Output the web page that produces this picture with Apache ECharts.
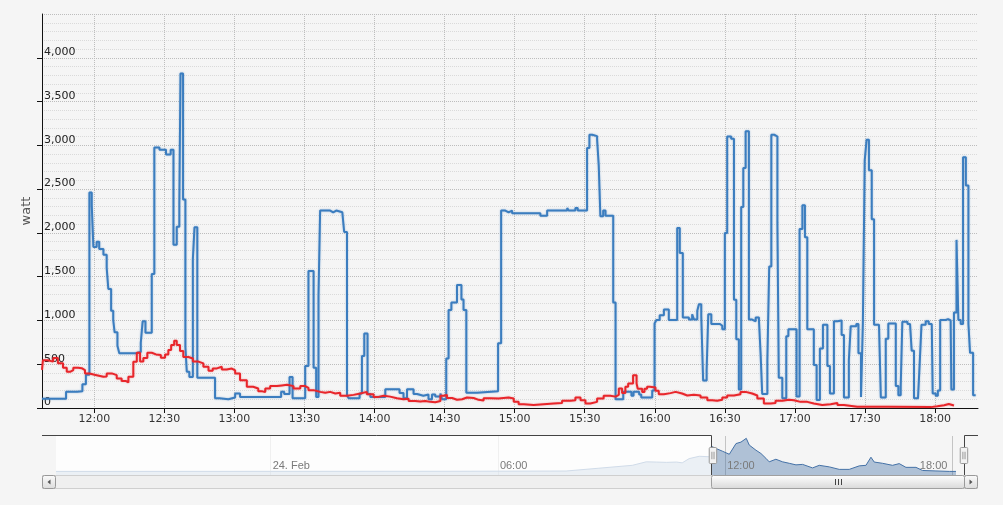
<!DOCTYPE html>
<html>
<head>
<meta charset="utf-8">
<script src="https://cdn.jsdelivr.net/npm/echarts@6/dist/echarts.min.js"></script>
<style>
html,body{margin:0;padding:0;background:#f5f5f5;}
#chart{width:1003px;height:505px;}
</style>
</head>
<body>
<div id="chart"></div>
<script>
// All times are minutes since 24 Feb 00:00 (UTC)
const navStart = -340;        // first point in the navigator (23 Feb 18:20)
const windowStart = 697.6;    // visible range start (11:37)
const windowEnd = 1098.4;     // visible range end = last data (18:18)
const yMax = 4500, yStep = 500;
const yAxisTitle = 'watt';
const dayLabel = '24. Feb';

// [minute, watt] - blue series (step)
const bluePower = [
[697.6,105],[707.9,185],[712.6,190],[714.9,270],[716.4,380],[717.9,2460],[718.9,2320],[719.6,1840],[721.0,1900],[722.1,1815],
[723.9,1750],[725.3,1600],[726.0,1360],[727.2,1110],[728.1,1005],[728.7,865],[729.9,710],[730.7,625],[737.9,640],[739.9,745],
[740.7,990],[741.9,860],[744.6,1530],[745.7,2975],[747.9,2950],[750.7,2895],[752.7,2950],[753.9,1865],[755.3,2070],[756.4,2320],
[756.9,3820],[758.0,2380],[759.0,700],[759.6,415],[760.7,355],[762.2,1700],[762.9,2065],[764.1,345],[771.7,110],[773.6,100],
[777.4,120],[780.3,165],[782.4,125],[800.0,185],[801.3,160],[803.6,355],[804.9,110],[810.3,480],[811.7,1565],[813.9,460],
[815.0,125],[816.0,1285],[816.7,2255],[821.0,2235],[822.3,2255],[823.6,2235],[826.2,2255],[827.0,2010],[828.2,140],[829.0,110],
[833.6,165],[834.6,595],[835.6,850],[837.0,160],[838.2,125],[844.6,215],[850.7,170],[852.4,110],[853.9,215],[856.7,160],
[858.2,140],[860.9,155],[863.1,100],[864.6,155],[866.0,130],[868.2,165],[868.9,100],[870.7,565],[871.7,1120],[872.9,1205],
[875.3,1405],[877.2,1240],[878.1,1120],[879.3,175],[883.9,190],[892.9,740],[894.2,2255],[896.0,2235],[897.4,2255],[898.9,2225],
[911.0,2195],[913.9,2255],[922.5,2285],[923.1,2255],[926.0,2285],[927.0,2255],[931.0,2970],[932.0,3120],[933.2,3105],[935.3,3065],
[936.0,2770],[936.7,2190],[937.9,2255],[938.9,2195],[942.2,1205],[943.2,100],[946.5,185],[950.0,140],[950.9,185],[953.3,155],
[954.2,120],[958.9,200],[959.9,965],[960.7,1005],[962.1,1060],[963.9,1125],[966.0,1005],[969.6,2055],[970.7,1770],[972.0,1035],
[974.6,1010],[976.0,1070],[976.8,1010],[978.2,1110],[978.9,1185],[979.9,1050],[980.7,315],[982.2,435],[982.9,1070],[984.2,960],
[987.9,940],[988.9,900],[990.0,2000],[991.0,3100],[992.7,3075],[993.9,1235],[994.9,785],[996.0,210],[997.0,2295],[997.9,2740],
[998.9,3160],[1000.3,1010],[1001.7,990],[1003.2,1035],[1004.6,1005],[1005.3,625],[1006.0,160],[1008.2,540],[1009.0,1615],[1009.9,3120],
[1011.3,3100],[1012.5,2120],[1013.1,345],[1014.6,110],[1016.3,820],[1017.2,900],[1020.7,130],[1022.0,2045],[1023.2,2315],[1024.3,1950],
[1025.3,900],[1028.1,490],[1029.3,90],[1030.7,680],[1032.0,950],[1033.9,480],[1035.0,165],[1036.7,990],[1038.2,1000],[1040.0,835],
[1041.0,120],[1043.1,545],[1043.9,935],[1046.3,960],[1047.2,625],[1048.3,125],[1049.1,965],[1049.9,2830],[1050.7,3065],[1051.7,2715],
[1052.9,2155],[1053.9,950],[1056.0,935],[1056.8,120],[1058.9,790],[1060.0,965],[1063.2,250],[1064.3,145],[1065.3,240],[1066.0,985],
[1068.2,960],[1069.3,940],[1070.0,655],[1071.0,110],[1072.7,125],[1073.4,490],[1074.2,950],[1076.0,990],[1077.3,960],[1078.6,940],
[1079.0,165],[1080.3,140],[1081.2,200],[1082.2,1005],[1084.6,1015],[1085.6,1000],[1086.7,965],[1087.0,210],[1088.1,1090],[1089.2,1920],
[1090.0,1005],[1091.0,960],[1092.0,2865],[1093.2,2540],[1094.3,960],[1095.0,630],[1096.3,145],[1097.4,145]
];

// [minute, watt] - red series (step)
const redPower = [
[697.6,435],[698.0,545],[700.2,530],[702.4,570],[704.4,510],[706.6,460],[708.2,413],[709.6,433],[711.0,460],[713.1,455],
[714.6,433],[716.0,395],[717.9,375],[721.0,356],[723.9,360],[725.3,395],[727.5,375],[729.6,337],[731.7,307],[733.6,292],
[734.6,356],[736.7,528],[738.2,631],[739.6,530],[741.0,570],[742.7,631],[744.6,612],[746.4,605],[748.5,575],[750.3,612],
[751.7,662],[752.9,719],[754.2,768],[755.3,719],[756.7,650],[758.1,582],[760.3,565],[762.2,530],[764.6,510],[766.7,471],
[768.9,425],[770.7,452],[772.5,471],[774.6,440],[776.7,450],[778.9,430],[780.3,395],[782.4,318],[785.3,242],[788.0,223],
[790.2,190],[791.9,184],[793.2,223],[795.3,250],[798.2,258],[800.3,265],[802.5,250],[805.3,223],[808.2,250],[810.3,230],
[811.7,204],[813.9,184],[816.7,173],[818.9,184],[821.0,165],[823.2,173],[825.3,140],[828.2,150],[831.0,165],[833.9,184],
[836.7,158],[839.6,127],[841.7,140],[843.9,130],[846.7,112],[849.6,100],[852.4,105],[854.6,81],[857.4,75],[859.6,80],
[861.7,70],[863.9,66],[866.0,81],[868.2,140],[869.6,150],[871.0,114],[873.2,95],[875.3,100],[877.5,120],[879.6,114],
[882.4,93],[884.6,85],[886.7,112],[889.6,109],[893.1,120],[897.4,109],[899.6,70],[901.7,43],[903.9,35],[908.1,43],
[912.4,51],[916.7,58],[920.3,82],[923.9,89],[926.0,120],[928.2,89],[930.3,51],[932.4,70],[935.3,109],[938.1,139],
[941.0,130],[943.2,151],[944.6,223],[946.0,170],[947.4,242],[948.6,280],[950.7,375],[952.2,280],[952.7,219],[954.6,184],
[955.6,219],[956.7,242],[957.9,235],[960.3,196],[961.7,158],[963.9,170],[966.7,184],[968.9,165],[971.7,143],[973.9,150],
[976.7,143],[979.6,120],[982.5,89],[984.6,82],[986.7,95],[988.9,120],[991.0,143],[993.9,158],[996.7,184],[998.9,165],
[1001.7,143],[1003.9,109],[1006.7,51],[1009.6,58],[1011.7,82],[1014.6,95],[1017.4,89],[1019.6,70],[1022.4,70],[1025.3,51],
[1028.1,35],[1031.7,43],[1035.3,58],[1038.2,35],[1041.0,13],[1046.7,13],[1060.0,10],[1078.2,20],[1081.0,31],[1083.9,45],
[1085.9,40],[1086.7,28],[1088.1,20]
];

// [minute, watt] - grouped (averaged) series shown in the navigator
const navigatorPower = [
[-340,230],[0,235],[300,240],[468,255],[520,435],[573,620],[595,845],[611,830],[627,810],[643,830],
[652,780],[663,1050],[679,1200],[695,1170],[697.6,1850],[705.5,1700],[715.5,1530],[726.6,1330],[737.2,2015],[745.1,2110],
[753.5,2350],[758.2,1920],[768.8,1590],[776.7,1380],[784.6,1070],[789.8,845],[800.4,1010],[811,845],[821.6,750],[832.2,650],
[842.7,680],[858.5,455],[869.1,620],[885,520],[900.8,360],[916.6,360],[932.5,585],[943.1,620],[951,1140],[956.2,830],
[969.4,750],[985.2,620],[995.8,730],[1006.4,490],[1022.3,490],[1032.8,290],[1054,260],[1075.1,230],[1085.7,230]
];
const navigatorMax = 2500;

const DAY0 = Date.UTC(2014, 1, 24);
const ts = m => DAY0 + Math.round(m * 60000);
const toSeries = arr => arr.map(p => [ts(p[0]), p[1]]);
const pad2 = n => String(n).padStart(2, '0');
const hhmm = v => { const d = new Date(v); return pad2(d.getUTCHours()) + ':' + pad2(d.getUTCMinutes()); };
const minuteOf = v => Math.round((v - DAY0) / 60000);

// layout
const NAV_LEFT = 56, NAV_RIGHT = 39, NAV_TOP = 436, NAV_H = 39;
const SB_TOP = 475, SB_H = 14, BTN = 14;

const chart = echarts.init(document.getElementById('chart'), null, {renderer: 'canvas'});

// ECharts picks the largest nice time step strictly below the requested one,
// so ask for slightly more than 30 min / 6 h.
const MAIN_STEP = 31 * 60000, NAV_STEP = 6.5 * 3600000;

const navAxis = (extra) => Object.assign({
  type: 'time', gridIndex: 1, position: 'bottom', min: ts(navStart), max: ts(windowEnd),
  minInterval: NAV_STEP, maxInterval: NAV_STEP,
  axisLine: {show: false}, axisTick: {show: false}, splitLine: {show: false}
}, extra);
const navLabel = (extra) => Object.assign({
  inside: true, verticalAlign: 'bottom', margin: 4,
  color: '#7a7a7a', fontSize: 11, fontFamily: 'Liberation Sans'
}, extra);

const option = {
  useUTC: true,
  animation: false,
  backgroundColor: '#f5f5f5',
  textStyle: {fontFamily: 'DejaVu Sans'},
  grid: [
    {left: 42, right: 25, top: 14, bottom: 97},
    {left: NAV_LEFT, right: NAV_RIGHT, top: NAV_TOP, height: NAV_H}
  ],
  xAxis: [
    {
      type: 'time', gridIndex: 0, position: 'bottom', min: ts(navStart), max: ts(windowEnd),
      minInterval: MAIN_STEP, maxInterval: MAIN_STEP,
      axisLine: {show: true, lineStyle: {color: '#111', width: 1}},
      axisTick: {show: true, length: 5, lineStyle: {color: '#111'}},
      axisLabel: {
        color: '#333', fontSize: 11, fontFamily: 'DejaVu Sans', margin: 6,
        showMinLabel: false, showMaxLabel: false,
        formatter: v => (minuteOf(v) % 30 === 0 ? hhmm(v) : '')
      },
      splitLine: {show: true, showMinLine: false, showMaxLine: false, lineStyle: {type: 'dotted', color: '#bdbdbd', width: 1}}
    },
    // navigator grid lines (below the mask)
    navAxis({
      z: 0,
      axisLabel: {show: false},
      splitLine: {show: true, showMinLine: false, showMaxLine: false, lineStyle: {color: '#c4c4c4', width: 1}}
    }),
    // navigator labels (above the mask)
    navAxis({
      z: 8,
      axisLabel: navLabel({
        align: 'left', padding: [0, 0, 0, 2],
        formatter: v => { const m = minuteOf(v); if (m % 360 !== 0 || m === 1080) return ''; return m === 0 ? dayLabel : hhmm(v); }
      })
    }),
    navAxis({
      z: 8,
      axisLabel: navLabel({
        align: 'right', padding: [0, 5, 0, 0],
        formatter: v => (minuteOf(v) === 1080 ? hhmm(v) : '')
      })
    })
  ],
  yAxis: [
    {
      type: 'value', gridIndex: 0, min: 0, max: yMax, interval: yStep,
      name: yAxisTitle, nameLocation: 'middle', nameGap: 5,
      nameTextStyle: {color: '#555', fontSize: 13, fontFamily: 'DejaVu Sans'},
      axisLine: {show: true, lineStyle: {color: '#111', width: 1}},
      axisTick: {show: true, length: 5, lineStyle: {color: '#111'}},
      axisLabel: {
        inside: true, margin: 2, verticalAlign: 'bottom', color: '#222', fontSize: 11,
        fontFamily: 'DejaVu Sans', showMaxLabel: false,
        formatter: v => v.toLocaleString('en-US')
      },
      splitLine: {show: true, lineStyle: {type: 'dotted', color: '#bdbdbd', width: 1}},
      minorTick: {show: false, splitNumber: 5},
      minorSplitLine: {show: true, lineStyle: {type: 'dotted', color: '#dadada', width: 1}}
    },
    {type: 'value', gridIndex: 1, min: 0, max: navigatorMax, show: false}
  ],
  dataZoom: [{
    type: 'slider', xAxisIndex: 0, filterMode: 'none',
    startValue: ts(windowStart), endValue: ts(windowEnd),
    left: NAV_LEFT, right: NAV_RIGHT, top: NAV_TOP, height: NAV_H,
    backgroundColor: 'rgba(0,0,0,0)', borderColor: 'rgba(0,0,0,0)', fillerColor: 'rgba(0,0,0,0)',
    showDataShadow: false, showDetail: false, brushSelect: false,
    moveHandleSize: 0, moveHandleStyle: {opacity: 0},
    handleIcon: 'path://M1.5,0.5 L6.5,0.5 Q7.5,0.5 7.5,1.5 L7.5,14.5 Q7.5,15.5 6.5,15.5 L1.5,15.5 Q0.5,15.5 0.5,14.5 L0.5,1.5 Q0.5,0.5 1.5,0.5 Z M3,4.5 L3,11.5 M5,4.5 L5,11.5',
    handleSize: 16,
    handleStyle: {color: '#f2f2f2', borderColor: '#999', borderWidth: 1},
    emphasis: {handleStyle: {color: '#f2f2f2', borderColor: '#999', borderWidth: 1}},
    z: 10
  }],
  series: [
    {
      name: 'blue', type: 'line', xAxisIndex: 0, yAxisIndex: 0, step: 'end',
      symbol: 'none', showSymbol: false, data: toSeries(bluePower),
      lineStyle: {color: '#3b7dbf', width: 2, shadowColor: 'rgba(59,125,191,0.45)', shadowBlur: 2},
      itemStyle: {color: '#3b7dbf'}
    },
    {
      name: 'red', type: 'line', xAxisIndex: 0, yAxisIndex: 0, step: 'end',
      symbol: 'none', showSymbol: false, data: toSeries(redPower),
      lineStyle: {color: '#e8262b', width: 2, shadowColor: 'rgba(232,38,43,0.35)', shadowBlur: 2},
      itemStyle: {color: '#e8262b'}
    },
    {
      name: 'navigator', type: 'line', xAxisIndex: 1, yAxisIndex: 1,
      symbol: 'none', showSymbol: false, data: toSeries(navigatorPower),
      lineStyle: {color: '#4572A7', width: 1}, itemStyle: {color: '#4572A7'},
      areaStyle: {color: '#4572A7', opacity: 0.4}
    }
  ]
};

chart.setOption(option);

function grad(c1, c2) {
  return new echarts.graphic.LinearGradient(0, 0, 0, 1, [{offset: 0, color: c1}, {offset: 1, color: c2}]);
}

function drawOverlay(sVal, eVal) {
  const px = v => chart.convertToPixel({xAxisIndex: 1}, v);
  const xL = Math.round(px(ts(navStart)));
  const xR = Math.round(px(ts(windowEnd)));
  const x0 = Math.round(px(sVal));
  const x1 = Math.round(px(eVal));
  const T = NAV_TOP - 0.5, B = NAV_TOP + NAV_H;
  const cx = Math.round((x0 + x1) / 2);
  const els = [
    {type: 'rect', z: 5, silent: true, shape: {x: xL, y: NAV_TOP, width: Math.max(0, x0 - xL), height: NAV_H}, style: {fill: 'rgba(255,255,255,0.75)'}},
    {type: 'rect', z: 5, silent: true, shape: {x: x1, y: NAV_TOP, width: Math.max(0, xR - x1), height: NAV_H}, style: {fill: 'rgba(255,255,255,0.75)'}},
    {type: 'polyline', z: 6, silent: true, shape: {points: [[xL - BTN, T], [x0 + 0.5, T], [x0 + 0.5, B]]}, style: {stroke: '#444', lineWidth: 1, fill: null}},
    {type: 'polyline', z: 6, silent: true, shape: {points: [[x1 + 0.5, B], [x1 + 0.5, T], [xR + BTN, T]]}, style: {stroke: '#444', lineWidth: 1, fill: null}},
    // scrollbar track
    {type: 'rect', z: 6, silent: true, shape: {x: xL - BTN + 0.5, y: SB_TOP + 0.5, width: xR - xL + 2 * BTN - 1, height: SB_H - 1}, style: {fill: '#efefef', stroke: '#cfcfcf', lineWidth: 1}},
    // thumb
    {type: 'rect', z: 7, silent: true, shape: {x: x0 + 0.5, y: SB_TOP + 0.5, width: x1 - x0, height: SB_H - 1, r: 2}, style: {fill: grad('#ffffff', '#d8d8d8'), stroke: '#a0a0a0', lineWidth: 1}},
    {type: 'line', z: 8, silent: true, shape: {x1: cx - 2.5, y1: SB_TOP + 4, x2: cx - 2.5, y2: SB_TOP + 10}, style: {stroke: '#444', lineWidth: 1}},
    {type: 'line', z: 8, silent: true, shape: {x1: cx + 0.5, y1: SB_TOP + 4, x2: cx + 0.5, y2: SB_TOP + 10}, style: {stroke: '#444', lineWidth: 1}},
    {type: 'line', z: 8, silent: true, shape: {x1: cx + 3.5, y1: SB_TOP + 4, x2: cx + 3.5, y2: SB_TOP + 10}, style: {stroke: '#444', lineWidth: 1}},
    // buttons
    {type: 'rect', z: 8, silent: true, shape: {x: xL - BTN + 0.5, y: SB_TOP + 0.5, width: BTN - 1, height: SB_H - 1, r: 2}, style: {fill: grad('#fbfbfb', '#dcdcdc'), stroke: '#999', lineWidth: 1}},
    {type: 'polygon', z: 9, silent: true, shape: {points: [[xL - BTN / 2 + 1.5, SB_TOP + 4.5], [xL - BTN / 2 + 1.5, SB_TOP + 9.5], [xL - BTN / 2 - 1.5, SB_TOP + 7]]}, style: {fill: '#555'}},
    {type: 'rect', z: 8, silent: true, shape: {x: xR + 0.5, y: SB_TOP + 0.5, width: BTN - 1, height: SB_H - 1, r: 2}, style: {fill: grad('#fbfbfb', '#dcdcdc'), stroke: '#999', lineWidth: 1}},
    {type: 'polygon', z: 9, silent: true, shape: {points: [[xR + BTN / 2 - 1.5, SB_TOP + 4.5], [xR + BTN / 2 - 1.5, SB_TOP + 9.5], [xR + BTN / 2 + 1.5, SB_TOP + 7]]}, style: {fill: '#555'}}
  ];
  chart.setOption({graphic: {elements: els}}, {replaceMerge: ['graphic']});
}

drawOverlay(ts(windowStart), ts(windowEnd));

chart.on('datazoom', function () {
  const dz = chart.getOption().dataZoom[0];
  let s = dz.startValue, e = dz.endValue;
  const a = ts(navStart), b = ts(windowEnd);
  if (s == null || e == null) {
    s = a + (b - a) * dz.start / 100;
    e = a + (b - a) * dz.end / 100;
  }
  drawOverlay(s, e);
});
</script>
</body>
</html>
